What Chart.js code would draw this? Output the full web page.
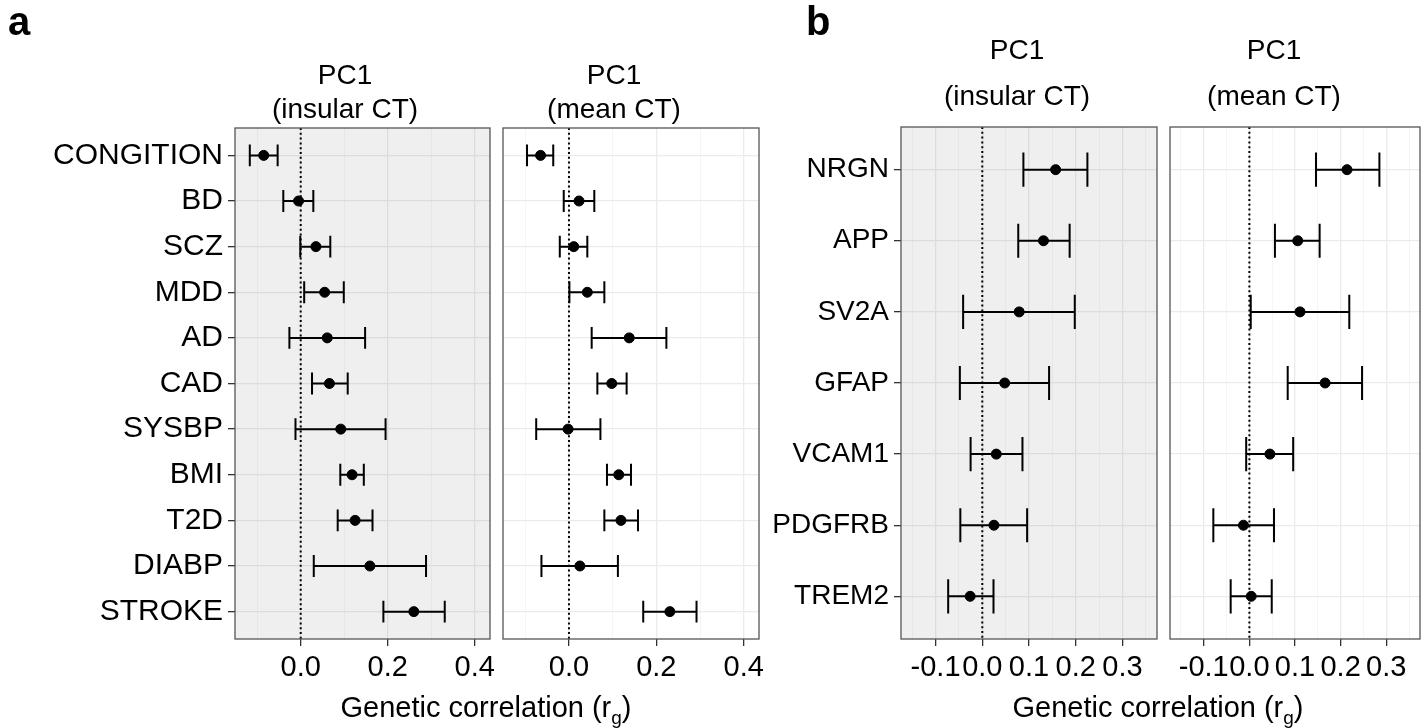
<!DOCTYPE html>
<html>
<head>
<meta charset="utf-8">
<script src="https://cdn.jsdelivr.net/npm/chart.js@4.4.1/dist/chart.umd.min.js"></script>
<style>
body { margin: 0; background: #fff; font-family: "Liberation Sans", Arial, sans-serif; }
#wrap { position: relative; width: 1426px; height: 728px; overflow: hidden; }
canvas { position: absolute; left: 0; top: 0; }
.txt { position: absolute; white-space: nowrap; font-size: 28px; line-height: 1; color: #000; transform: translateX(-50%); }
.ttl { font-size: 29px; }
.tag { position: absolute; font-size: 40px; font-weight: bold; line-height: 1; color: #000; }
sub { font-size: 19px; vertical-align: -7px; line-height: 0; }
</style>
</head>
<body>
<div id="wrap">
  <canvas id="a1" width="1426" height="728"></canvas>
  <canvas id="a2" width="1426" height="728"></canvas>
  <canvas id="b1" width="1426" height="728"></canvas>
  <canvas id="b2" width="1426" height="728"></canvas>

  <div class="tag" style="left:8px;top:1px">a</div>
  <div class="tag" style="left:806px;top:1px">b</div>

  <div class="txt" style="left:345px;top:61px">PC1</div>
  <div class="txt" style="left:345px;top:95px">(insular CT)</div>
  <div class="txt" style="left:614px;top:61px">PC1</div>
  <div class="txt" style="left:614px;top:95px">(mean CT)</div>
  <div class="txt" style="left:1017px;top:36px">PC1</div>
  <div class="txt" style="left:1017px;top:82px">(insular CT)</div>
  <div class="txt" style="left:1274px;top:36px">PC1</div>
  <div class="txt" style="left:1274px;top:82px">(mean CT)</div>

  <div class="txt ttl" style="left:486px;top:693px">Genetic correlation (r<sub>g</sub>)</div>
  <div class="txt ttl" style="left:1158px;top:693px">Genetic correlation (r<sub>g</sub>)</div>
</div>
<script>
// ---- data ----
const traits = ['CONGITION', 'BD', 'SCZ', 'MDD', 'AD', 'CAD', 'SYSBP', 'BMI', 'T2D', 'DIABP', 'STROKE'];

// panel a, PC1 (insular CT)
const traitInsularRg   = [-0.085, -0.005, 0.035, 0.055, 0.061, 0.066, 0.092, 0.118, 0.125, 0.159, 0.260];
const traitInsularLow  = [-0.117, -0.040, -0.001, 0.008, -0.026, 0.026, -0.012, 0.091, 0.085, 0.030, 0.190];
const traitInsularHigh = [-0.053, 0.029, 0.068, 0.099, 0.148, 0.108, 0.195, 0.145, 0.165, 0.288, 0.331];

// panel a, PC1 (mean CT)
const traitMeanRg   = [-0.065, 0.023, 0.011, 0.042, 0.138, 0.098, -0.002, 0.114, 0.119, 0.025, 0.231];
const traitMeanLow  = [-0.096, -0.012, -0.021, 0.001, 0.052, 0.065, -0.075, 0.087, 0.081, -0.063, 0.170];
const traitMeanHigh = [-0.036, 0.058, 0.042, 0.081, 0.223, 0.132, 0.072, 0.142, 0.158, 0.112, 0.292];

const proteins = ['NRGN', 'APP', 'SV2A', 'GFAP', 'VCAM1', 'PDGFRB', 'TREM2'];

// panel b, PC1 (insular CT)
const protInsularRg   = [0.157, 0.131, 0.079, 0.048, 0.030, 0.025, -0.026];
const protInsularLow  = [0.088, 0.077, -0.041, -0.048, -0.025, -0.047, -0.073];
const protInsularHigh = [0.225, 0.187, 0.198, 0.143, 0.086, 0.096, 0.024];

// panel b, PC1 (mean CT)
const protMeanRg   = [0.214, 0.106, 0.111, 0.166, 0.045, -0.013, 0.004];
const protMeanLow  = [0.146, 0.056, 0.003, 0.084, -0.007, -0.079, -0.041];
const protMeanHigh = [0.285, 0.154, 0.219, 0.247, 0.096, 0.054, 0.049];

// x ticks
const aMajorTicks = [0, 0.2, 0.4];
const aMinorTicks = [-0.1, 0.1, 0.3];
const bMajorTicks = [-0.1, 0, 0.1, 0.2, 0.3];
const bMinorTicks = [-0.15, -0.05, 0.05, 0.15, 0.25, 0.35];

const FONT = '"Liberation Sans", Arial, sans-serif';
const W = 1426, H = 728;

function isIn(list, v) {
    return list.some(m => Math.abs(m - v) < 1e-9);
}

// background, zero line, error bars and border of one facet
function panelDecor(p) {
    return {
        id: 'panelDecor',
        beforeDraw(chart) {
            const a = chart.chartArea;
            chart.ctx.save();
            chart.ctx.fillStyle = p.bg;
            chart.ctx.fillRect(a.left, a.top, a.width, a.height);
            chart.ctx.restore();
        },
        beforeDatasetsDraw(chart) {
            const ctx = chart.ctx;
            const a = chart.chartArea;
            const x = chart.scales.x, y = chart.scales.y;
            ctx.save();
            ctx.strokeStyle = '#000';
            ctx.lineWidth = 2;
            ctx.setLineDash([2, 2.8]);
            const x0 = x.getPixelForValue(0);
            ctx.beginPath();
            ctx.moveTo(x0, a.top);
            ctx.lineTo(x0, a.bottom);
            ctx.stroke();
            ctx.setLineDash([]);
            p.low.forEach((lo, i) => {
                const yc = y.getPixelForValue(i + 1);
                const yt = y.getPixelForValue(i + 1 - 0.24);
                const yb = y.getPixelForValue(i + 1 + 0.24);
                const xl = x.getPixelForValue(lo);
                const xr = x.getPixelForValue(p.high[i]);
                ctx.beginPath();
                ctx.moveTo(xl, yc); ctx.lineTo(xr, yc);
                ctx.moveTo(xl, yt); ctx.lineTo(xl, yb);
                ctx.moveTo(xr, yt); ctx.lineTo(xr, yb);
                ctx.stroke();
            });
            ctx.restore();
        },
        afterDraw(chart) {
            const a = chart.chartArea;
            chart.ctx.save();
            chart.ctx.strokeStyle = '#555';
            chart.ctx.lineWidth = 1.3;
            chart.ctx.strokeRect(a.left, a.top, a.width, a.height);
            chart.ctx.restore();
        }
    };
}

function makePanel(id, p) {
    const allTicks = p.majors.concat(p.minors).sort((a, b) => a - b);
    new Chart(document.getElementById(id), {
        type: 'scatter',
        data: {
            datasets: [{
                data: p.cats.map((c, i) => ({ x: p.est[i], y: i + 1 })),
                backgroundColor: '#000',
                borderColor: '#000',
                pointRadius: 5,
                pointHoverRadius: 5
            }]
        },
        plugins: [panelDecor(p)],
        options: {
            responsive: false,
            animation: false,
            devicePixelRatio: 1,
            events: [],
            layout: { padding: { left: 0, top: p.top, right: W - p.right, bottom: H - p.bottom - 60 } },
            plugins: { legend: { display: false }, tooltip: { enabled: false } },
            scales: {
                x: {
                    type: 'linear',
                    min: p.xmin,
                    max: p.xmax,
                    afterBuildTicks: s => { s.ticks = allTicks.map(v => ({ value: v })); },
                    afterFit: s => { s.height = 60; },
                    border: { display: false },
                    grid: {
                        color: ctx => isIn(p.majors, ctx.tick.value) ? p.grid : p.gridMinor,
                        lineWidth: ctx => isIn(p.majors, ctx.tick.value) ? 1.3 : 0.8,
                        tickLength: 7,
                        tickColor: ctx => isIn(p.majors, ctx.tick.value) ? '#333' : 'rgba(0,0,0,0)',
                        tickWidth: 1.3
                    },
                    ticks: {
                        autoSkip: false,
                        maxRotation: 0,
                        padding: 5,
                        color: '#000',
                        font: { family: FONT, size: 29 },
                        callback: v => isIn(p.majors, v) ? v.toFixed(1) : ''
                    }
                },
                y: {
                    type: 'linear',
                    reverse: true,
                    min: 0.4,
                    max: p.cats.length + 0.6,
                    afterBuildTicks: s => { s.ticks = p.cats.map((c, i) => ({ value: i + 1 })); },
                    afterFit: s => { s.width = p.left; },
                    border: { display: false },
                    grid: {
                        color: p.grid,
                        lineWidth: 1.3,
                        drawTicks: p.showY,
                        tickLength: 7,
                        tickColor: '#333',
                        tickWidth: 1.3
                    },
                    ticks: {
                        display: p.showY,
                        padding: 5,
                        color: '#000',
                        font: { family: FONT, size: p.yFont },
                        callback: v => p.cats[Math.round(v) - 1]
                    }
                }
            }
        }
    });
}

const greyPanel = { bg: '#efefef', grid: '#dcdcdc', gridMinor: '#e3e3e3' };
const whitePanel = { bg: '#ffffff', grid: '#ebebeb', gridMinor: '#f2f2f2' };

makePanel('a1', Object.assign({
    cats: traits, est: traitInsularRg, low: traitInsularLow, high: traitInsularHigh,
    xmin: -0.151, xmax: 0.435, majors: aMajorTicks, minors: aMinorTicks,
    left: 235, right: 490, top: 128, bottom: 639, showY: true, yFont: 30
}, greyPanel));

makePanel('a2', Object.assign({
    cats: traits, est: traitMeanRg, low: traitMeanLow, high: traitMeanHigh,
    xmin: -0.151, xmax: 0.435, majors: aMajorTicks, minors: aMinorTicks,
    left: 503, right: 759, top: 128, bottom: 639, showY: false, yFont: 30
}, whitePanel));

makePanel('b1', Object.assign({
    cats: proteins, est: protInsularRg, low: protInsularLow, high: protInsularHigh,
    xmin: -0.174, xmax: 0.374, majors: bMajorTicks, minors: bMinorTicks,
    left: 901, right: 1157, top: 127, bottom: 639, showY: true, yFont: 28
}, greyPanel));

makePanel('b2', Object.assign({
    cats: proteins, est: protMeanRg, low: protMeanLow, high: protMeanHigh,
    xmin: -0.174, xmax: 0.374, majors: bMajorTicks, minors: bMinorTicks,
    left: 1170, right: 1425, top: 127, bottom: 639, showY: false, yFont: 28
}, whitePanel));
</script>
</body>
</html>
